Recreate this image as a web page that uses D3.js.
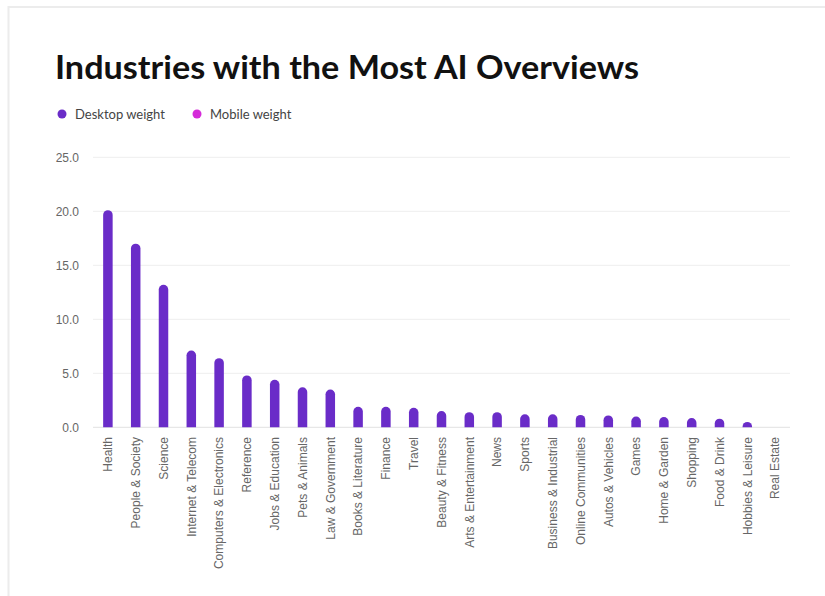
<!DOCTYPE html>
<html>
<head>
<meta charset="utf-8">
<script src="https://cdn.jsdelivr.net/npm/d3@7"></script>
<style>
  body { margin: 0; background: #fff; }
  #chart { width: 825px; height: 596px; }
</style>
</head>
<body>
<div id="chart"></div>
<script>
// industries, in the order they are drawn
var categories = ["Health", "People & Society", "Science", "Internet & Telecom",
    "Computers & Electronics", "Reference", "Jobs & Education", "Pets & Animals",
    "Law & Government", "Books & Literature", "Finance", "Travel", "Beauty & Fitness",
    "Arts & Entertainment", "News", "Sports", "Business & Industrial", "Online Communities",
    "Autos & Vehicles", "Games", "Home & Garden", "Shopping", "Food & Drink",
    "Hobbies & Leisure", "Real Estate"];

// desktop weight (%)
var desktopWeight = [20.1, 17.0, 13.2, 7.1, 6.4, 4.8, 4.4, 3.7, 3.5, 1.9, 1.9, 1.8, 1.5,
    1.4, 1.4, 1.2, 1.2, 1.15, 1.1, 1.0, 0.95, 0.85, 0.8, 0.5, 0];

var yTicks = [0, 5, 10, 15, 20, 25];

var legendItems = ["Desktop weight", "Mobile weight"];
var legendColors = ["#6a2cc8", "#d52bd9"];

/**
 * Appends the svg that holds the whole card.
 */
function appendSVG(id) {
    return d3.select("#" + id)
        .append("svg")
        .attr("width", 825)
        .attr("height", 596);
}

/**
 * Bar path with a rounded top and a flat bottom.
 */
function roundedTopBar(x, y, w, h) {
    var r = Math.min(w / 2, h);
    if (h <= 0) return "";
    return "M" + x + "," + (y + h) +
        "V" + (y + r) +
        "A" + r + "," + r + " 0 0 1 " + (x + w) + "," + (y + r) +
        "V" + (y + h) + "Z";
}

function drawChart() {
    var svg = appendSVG("chart");

    // card border
    svg.append("rect")
        .attr("x", 8.5).attr("y", 7)
        .attr("width", 830).attr("height", 600)
        .attr("fill", "#fff")
        .attr("stroke", "#ececec")
        .attr("stroke-width", 2);

    // title
    var title = svg.append("text")
        .attr("x", 55)
        .attr("y", 79)
        .style("font-family", "Lato, 'Noto Sans', sans-serif")
        .style("font-weight", "bold")
        .style("font-size", "33px")
        .style("fill", "#111")
        .text("Industries with the Most AI Overviews");
    title.attr("textLength", 584).attr("lengthAdjust", "spacingAndGlyphs");

    // legend
    var legend = svg.append("g");
    var legendX = [62, 197];
    legendItems.forEach(function (name, i) {
        legend.append("circle")
            .attr("cx", legendX[i]).attr("cy", 114).attr("r", 4.5)
            .attr("fill", legendColors[i]);
        legend.append("text")
            .attr("x", legendX[i] + 13).attr("y", 118.5)
            .style("font-family", "Lato, sans-serif")
            .style("font-size", "13px")
            .style("fill", "#444")
            .text(name);
    });

    var x = d3.scaleBand()
        .domain(categories)
        .range([94, 789]);

    var y = d3.scaleLinear()
        .domain([0, 25])
        .range([427.3, 157.3]);

    // grid lines
    svg.append("g")
        .selectAll("line")
        .data(yTicks)
        .join("line")
        .attr("x1", 93).attr("x2", 790)
        .attr("y1", function (d) { return y(d); })
        .attr("y2", function (d) { return y(d); })
        .attr("stroke", function (d) { return d === 0 ? "#e2e2e2" : "#eeeeee"; })
        .attr("stroke-width", 1);

    // y axis labels
    var yAxis = svg.append("g")
        .attr("transform", "translate(79,0)")
        .call(d3.axisLeft(y).tickValues(yTicks).tickFormat(d3.format(".1f")).tickSize(0).tickPadding(0));
    yAxis.select(".domain").remove();
    yAxis.selectAll("text")
        .style("font-family", "'Liberation Sans', Arial, sans-serif")
        .style("font-size", "12px")
        .style("fill", "#666");

    // bars
    var barWidth = 9.5;
    svg.append("g")
        .selectAll("path")
        .data(categories)
        .join("path")
        .attr("d", function (d, i) {
            var cx = x(d) + x.bandwidth() / 2;
            var top = y(desktopWeight[i]);
            return roundedTopBar(cx - barWidth / 2, top, barWidth, y(0) - top);
        })
        .attr("fill", legendColors[0]);

    // x axis labels
    var xAxis = svg.append("g")
        .attr("transform", "translate(0,437)")
        .call(d3.axisBottom(x).tickSize(0).tickPadding(0));
    xAxis.select(".domain").remove();
    xAxis.selectAll("text")
        .attr("transform", "rotate(-90)")
        .attr("x", 0)
        .attr("y", 0)
        .attr("dy", "0.35em")
        .style("text-anchor", "end")
        .style("font-family", "'Liberation Sans', Arial, sans-serif")
        .style("font-size", "12px")
        .style("fill", "#666");
}

drawChart();
</script>
</body>
</html>
